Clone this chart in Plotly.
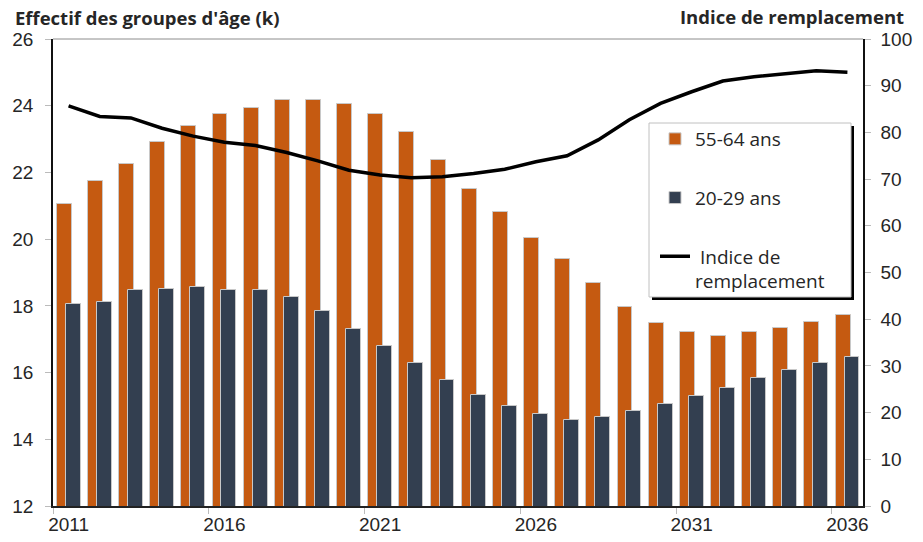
import plotly.graph_objects as go

years = list(range(2011, 2037))
age_55_64 = [21.05, 21.75, 22.25, 22.90, 23.40, 23.74, 23.92, 24.16, 24.17, 24.04,
             23.74, 23.20, 22.36, 21.51, 20.80, 20.02, 19.41, 18.70, 17.96, 17.48,
             17.23, 17.09, 17.21, 17.35, 17.51, 17.73]
age_20_29 = [18.05, 18.12, 18.48, 18.52, 18.56, 18.48, 18.47, 18.26, 17.84, 17.30,
             16.79, 16.30, 15.79, 15.34, 15.01, 14.75, 14.58, 14.66, 14.86, 15.07,
             15.31, 15.54, 15.83, 16.07, 16.29, 16.47]
indice = [85.7, 83.4, 83.1, 80.9, 79.2, 77.9, 77.2, 75.7, 73.9, 71.9,
          70.9, 70.3, 70.5, 71.2, 72.1, 73.7, 75.0, 78.4, 82.7, 86.2,
          88.7, 91.0, 91.9, 92.6, 93.2, 92.9]
x_ticks = [2011, 2016, 2021, 2026, 2031, 2036]
left_ticks = [12, 14, 16, 18, 20, 22, 24, 26]
right_ticks = [0, 10, 20, 30, 40, 50, 60, 70, 80, 90, 100]

W, H = 923, 542
L, R, T, B = 53, 60, 39, 36
PW, PH = W - L - R, H - T - B


def px(x):
    return (x - L) / PW


def py(y):
    return (H - B - y) / PH


ORANGE = "#C55A11"
NAVY = "#333F50"
TXT = "#262626"

fig = go.Figure()
fig.add_trace(go.Bar(
    x=years, y=age_55_64, name="55-64 ans", marker_color=ORANGE,
    marker_line=dict(color="#c8c8c8", width=1), width=0.48, offset=-0.38,
    legendgroup="a", yaxis="y"))
fig.add_trace(go.Bar(
    x=years, y=age_20_29, name="20-29 ans", marker_color=NAVY,
    marker_line=dict(color="#c8c8c8", width=1), width=0.48, offset=-0.093,
    legendgroup="b", yaxis="y"))
fig.add_trace(go.Scatter(
    x=years, y=indice, name=" Indice de<br>remplacement", mode="lines",
    line=dict(color="black", width=3.5), legendgroup="c", yaxis="y2"))

tickfont = dict(family="Liberation Sans, Arial, sans-serif", size=19, color=TXT)

fig.update_layout(
    width=W, height=H,
    margin=dict(l=L, r=R, t=T, b=B, pad=0, autoexpand=False),
    paper_bgcolor="white", plot_bgcolor="white",
    barmode="overlay", bargap=0,
    showlegend=True,
    legend=dict(x=px(655), y=py(120), xanchor="left", yanchor="top",
                bgcolor="rgba(0,0,0,0)", borderwidth=0,
                font=dict(family="Open Sans, sans-serif", size=19, color=TXT),
                tracegroupgap=31, valign="top", itemwidth=30,
                traceorder="grouped"),
    xaxis=dict(range=[2010.5, 2036.5], tickvals=x_ticks, ticks="",
               showgrid=False, zeroline=False, showline=True, automargin=False,
               linecolor="#222", linewidth=1.5, tickfont=tickfont,
               minor=dict(tickvals=[2010.5, 2015.5, 2020.5, 2025.5, 2030.5, 2035.5],
                          ticks="outside", ticklen=6, tickcolor="#bbbbbb")),
    yaxis=dict(range=[12, 26], tickvals=left_ticks, ticks="outside", ticklen=6,
               tickcolor="#bbbbbb", showgrid=False, zeroline=False, automargin=False,
               showline=True, linecolor="#111", linewidth=1.5,
               tickfont=tickfont, ticklabelstandoff=8),
    yaxis2=dict(range=[0, 100], tickvals=right_ticks, overlaying="y", side="right",
                ticks="outside", ticklen=6, tickcolor="#bbbbbb", automargin=False,
                showgrid=False, zeroline=False, showline=True,
                linecolor="#111", linewidth=1.5, tickfont=tickfont,
                ticklabelstandoff=6),
    shapes=[
        dict(type="line", xref="paper", yref="paper", x0=0, x1=1, y0=1, y1=1,
             line=dict(color="#8c8c8c", width=1)),
        dict(type="rect", xref="paper", yref="paper", x0=px(652), x1=px(854),
             y0=py(300), y1=py(126), fillcolor="black", line=dict(width=0),
             layer="above"),
        dict(type="rect", xref="paper", yref="paper", x0=px(649), x1=px(851),
             y0=py(297), y1=py(123), fillcolor="white",
             line=dict(color="#c0c0c0", width=1), layer="above"),
    ],
    annotations=[
        dict(text="<b>Effectif des groupes d'âge (k)</b>", xref="paper", yref="paper",
             x=px(13), y=py(17), xanchor="left", yanchor="middle", showarrow=False,
             font=dict(family="Open Sans, sans-serif", size=18.5, color=TXT)),
        dict(text="<b>Indice de remplacement</b>", xref="paper", yref="paper",
             x=px(906), y=py(16), xanchor="right", yanchor="middle", showarrow=False,
             font=dict(family="Open Sans, sans-serif", size=18.5, color=TXT)),
    ],
)

fig.write_html("out.html", config={"displayModeBar": False},
               post_script="document.body.style.margin='0';document.body.style.padding='0';")
